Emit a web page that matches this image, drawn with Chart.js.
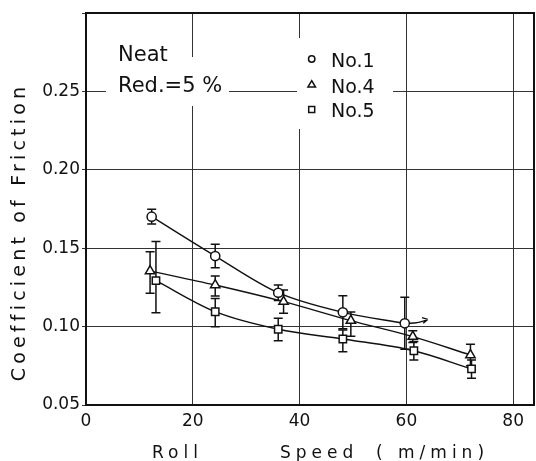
<!DOCTYPE html>
<html>
<head>
<meta charset="utf-8">
<script src="https://cdn.jsdelivr.net/npm/chart.js@4/dist/chart.umd.min.js"></script>
<style>
  html, body { margin: 0; padding: 0; background: #fff; }
  #wrap { width: 536px; height: 461px; position: relative; }
</style>
</head>
<body>
<div id="wrap"><canvas id="c" width="536" height="461"></canvas></div>
<script>
// ---- data ----
const seriesNames = ['No.1', 'No.4', 'No.5'];

const speedNo1 = [12.3, 24.2, 36.0, 48.1, 59.7];
const cofNo1 = [0.1701, 0.1450, 0.1216, 0.1091, 0.1021];
const errUpNo1 = [0.0047, 0.0075, 0.0049, 0.0105, 0.0166];
const errDownNo1 = [0.0047, 0.0075, 0.0049, 0.0105, 0.0166];

const speedNo4 = [12.0, 24.2, 37.0, 49.6, 61.2, 72.0];
const cofNo4 = [0.1355, 0.1265, 0.1159, 0.1038, 0.0936, 0.0819];
const errUpNo4 = [0.0123, 0.0057, 0.0074, 0.0055, 0.0038, 0.0068];
const errDownNo4 = [0.0142, 0.0070, 0.0074, 0.0100, 0.0038, 0.0068];

const speedNo5 = [13.1, 24.2, 36.0, 48.1, 61.4, 72.2];
const cofNo5 = [0.1293, 0.1095, 0.0983, 0.0921, 0.0846, 0.0730];
const errUpNo5 = [0.0249, 0.0085, 0.0070, 0.0057, 0.0059, 0.0057];
const errDownNo5 = [0.0204, 0.0096, 0.0073, 0.0081, 0.0059, 0.0059];

const xTickLabels = ['0', '20', '40', '60', '80'];
const yTickLabels = ['0.05', '0.10', '0.15', '0.20', '0.25'];

const annotationLines = ['Neat', 'Red.=5 %'];
const xTitleParts = ['Roll', 'Speed', '( m/min)'];
const yTitle = 'Coefficient of Friction';

// arrow on the last No.1 point (offset in data units)
const arrowDx = 4.3, arrowDy = 0.0025;

// ---- build ----
function pts(xs, ys) { return xs.map((x, i) => ({ x: x, y: ys[i] })); }

const FONT = "'DejaVu Sans', sans-serif";
const INK = '#111';

const datasets = [
  { label: seriesNames[0], data: pts(speedNo1, cofNo1), pointStyle: 'circle', pointRadius: 4.6,
    errUp: errUpNo1, errDown: errDownNo1 },
  { label: seriesNames[1], data: pts(speedNo4, cofNo4), pointStyle: 'triangle', pointRadius: 5.4,
    errUp: errUpNo4, errDown: errDownNo4 },
  { label: seriesNames[2], data: pts(speedNo5, cofNo5), pointStyle: 'rect', pointRadius: 5.2,
    errUp: errUpNo5, errDown: errDownNo5 }
].map(d => Object.assign({
  borderColor: INK, borderWidth: 1.4, backgroundColor: '#fff',
  pointBackgroundColor: '#fff', pointBorderColor: INK, pointBorderWidth: 1.5,
  pointHoverRadius: 5, showLine: true, fill: false,
  cubicInterpolationMode: 'monotone'
}, d));

const errorBars = {
  id: 'errorBars',
  beforeDatasetsDraw(chart) {
    const ctx = chart.ctx, ys = chart.scales.y;
    ctx.save();
    ctx.strokeStyle = INK; ctx.lineWidth = 1.5;
    chart.data.datasets.forEach((ds, di) => {
      const meta = chart.getDatasetMeta(di);
      meta.data.forEach((p, i) => {
        const v = ds.data[i].y;
        const top = ys.getPixelForValue(v + ds.errUp[i]);
        const bot = ys.getPixelForValue(v - ds.errDown[i]);
        const x = p.x, cw = 4.5;
        ctx.beginPath();
        ctx.moveTo(x, top); ctx.lineTo(x, bot);
        ctx.moveTo(x - cw, top); ctx.lineTo(x + cw, top);
        ctx.moveTo(x - cw, bot); ctx.lineTo(x + cw, bot);
        ctx.stroke();
      });
    });
    ctx.restore();
  }
};

const decorations = {
  id: 'decorations',
  beforeDatasetsDraw(chart) {
    const ctx = chart.ctx, a = chart.chartArea;
    ctx.save();
    // white masks behind the in-plot texts (grid is interrupted there)
    ctx.fillStyle = '#fff';
    ctx.fillRect(a.left + 20, 57, 123, 49);
    ctx.fillRect(a.left + 211, 38, 96, 91);
    ctx.restore();
  },
  afterDatasetsDraw(chart) {
    const ctx = chart.ctx, a = chart.chartArea;
    const xs = chart.scales.x, ys = chart.scales.y;
    ctx.save();
    // frame (top & right)
    ctx.strokeStyle = INK; ctx.lineWidth = 2;
    ctx.beginPath();
    ctx.moveTo(a.left, a.top); ctx.lineTo(a.right, a.top); ctx.lineTo(a.right, a.bottom);
    ctx.stroke();

    // arrow from last No.1 point
    const n = speedNo1.length - 1;
    const x0 = xs.getPixelForValue(speedNo1[n]) + 5;
    const y0 = ys.getPixelForValue(cofNo1[n]);
    const x1 = xs.getPixelForValue(speedNo1[n] + arrowDx);
    const y1 = ys.getPixelForValue(cofNo1[n] + arrowDy);
    ctx.lineWidth = 1.4;
    ctx.beginPath();
    ctx.moveTo(x0, y0); ctx.quadraticCurveTo((x0 + x1) / 2, y0, x1, y1);
    const ang = Math.atan2(y1 - y0, x1 - x0);
    ctx.moveTo(x1, y1); ctx.lineTo(x1 - 6 * Math.cos(ang - 0.5), y1 - 6 * Math.sin(ang - 0.5));
    ctx.moveTo(x1, y1); ctx.lineTo(x1 - 6 * Math.cos(ang + 0.5), y1 - 6 * Math.sin(ang + 0.5));
    ctx.stroke();

    // annotation text
    ctx.fillStyle = INK;
    ctx.textAlign = 'left'; ctx.textBaseline = 'alphabetic';
    ctx.font = '21px ' + FONT;
    ctx.fillText(annotationLines[0], a.left + 32, 61);
    ctx.fillText(annotationLines[1], a.left + 32, 91.5);

    // legend
    const lx = 311.7, lyS = [59, 84.5, 109.5], lyT = [67.3, 93, 116.7];
    ctx.font = '19px ' + FONT;
    ctx.lineWidth = 1.5; ctx.strokeStyle = INK;
    chart.data.datasets.forEach((ds, i) => {
      ctx.beginPath();
      if (ds.pointStyle === 'circle') {
        ctx.arc(lx, lyS[i], 3.2, 0, Math.PI * 2);
      } else if (ds.pointStyle === 'triangle') {
        ctx.moveTo(lx, lyS[i] - 3.8); ctx.lineTo(lx + 3.8, lyS[i] + 2.6); ctx.lineTo(lx - 3.8, lyS[i] + 2.6); ctx.closePath();
      } else {
        ctx.rect(lx - 3, lyS[i] - 3, 6, 6);
      }
      ctx.stroke();
      ctx.fillText(ds.label, 331, lyT[i]);
    });
    ctx.restore();
  },
  afterDraw(chart) {
    const ctx = chart.ctx;
    ctx.save();
    ctx.fillStyle = INK;
    // y title
    ctx.font = '19px ' + FONT;
    ctx.letterSpacing = '4.2px';
    ctx.translate(25, 232);
    ctx.rotate(-Math.PI / 2);
    ctx.textAlign = 'center'; ctx.textBaseline = 'alphabetic';
    ctx.fillText(yTitle, 0, 0);
    ctx.restore();
    // x title
    ctx.save();
    ctx.fillStyle = INK;
    ctx.font = '17px ' + FONT;
    ctx.letterSpacing = '5px';
    ctx.textAlign = 'left'; ctx.textBaseline = 'alphabetic';
    const xpos = [152, 280, 376];
    xTitleParts.forEach((t, i) => ctx.fillText(t, xpos[i], 458));
    ctx.restore();
  }
};

function labelFrom(list) {
  return function (value) {
    const hit = list.find(s => Math.abs(parseFloat(s) - value) < 1e-9);
    return hit === undefined ? '' : hit;
  };
}

new Chart(document.getElementById('c'), {
  type: 'line',
  data: { datasets: datasets },
  plugins: [errorBars, decorations],
  options: {
    responsive: false,
    animation: false,
    events: [],
    layout: { autoPadding: false, padding: { top: 13, right: 2, left: 0, bottom: 0 } },
    plugins: { legend: { display: false }, tooltip: { enabled: false } },
    scales: {
      x: {
        type: 'linear', min: 0, max: 83.9,
        ticks: { stepSize: 20, includeBounds: false, callback: labelFrom(xTickLabels),
                 color: INK, font: { family: FONT, size: 17 }, padding: 6, maxRotation: 0 },
        grid: { color: '#333', lineWidth: 1, drawTicks: false },
        border: { display: true, color: INK, width: 2 },
        afterFit(s) { s.height = 56; s.paddingLeft = 0; s.paddingRight = 0; }
      },
      y: {
        type: 'linear', min: 0.05, max: 0.30,
        ticks: { stepSize: 0.05, includeBounds: false, callback: labelFrom(yTickLabels),
                 color: INK, font: { family: FONT, size: 17 }, padding: 2 },
        grid: { color: '#333', lineWidth: 1, drawTicks: true, tickLength: 4 },
        border: { display: true, color: INK, width: 2 },
        afterFit(s) { s.width = 86; s.paddingTop = 0; s.paddingBottom = 0; }
      }
    }
  }
});
</script>
</body>
</html>
